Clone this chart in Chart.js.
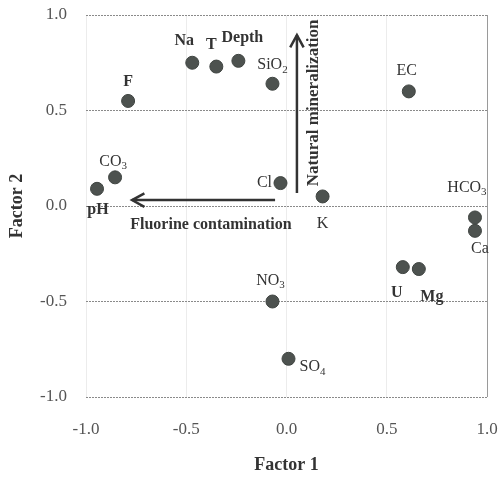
<!DOCTYPE html>
<html>
<head>
<meta charset="utf-8">
<script src="https://cdn.jsdelivr.net/npm/chart.js@4/dist/chart.umd.min.js"></script>
<style>
  html, body { margin: 0; padding: 0; background: #fff; }
  #wrap { width: 498px; height: 478px; }
</style>
</head>
<body>
<div id="wrap"><canvas id="canvas1" width="498" height="478"></canvas></div>
<script>
// variables (loadings)
var variables = ['F', 'Na', 'T', 'Depth', 'SiO2', 'EC', 'CO3', 'pH', 'Cl', 'K', 'HCO3', 'Ca', 'U', 'Mg', 'NO3', 'SO4'];
var factor1 = [-0.79, -0.47, -0.35, -0.24, -0.07, 0.61, -0.855, -0.945, -0.03, 0.18, 0.94, 0.94, 0.58, 0.66, -0.07, 0.01];
var factor2 = [0.55, 0.75, 0.73, 0.76, 0.64, 0.60, 0.15, 0.09, 0.12, 0.05, -0.06, -0.13, -0.32, -0.33, -0.50, -0.80];
var axisTicks = [-1.0, -0.5, 0.0, 0.5, 1.0];

// label look: [text, subscript, dx, dy, bold]
var labelStyle = {
	'F': ['F', '', 0, -19, true],
	'Na': ['Na', '', -8, -22, true],
	'T': ['T', '', -5, -22, true],
	'Depth': ['Depth', '', 4, -23, true],
	'SiO2': ['SiO', '2', 0, -19, false],
	'EC': ['EC', '', -2, -21, false],
	'CO3': ['CO', '3', -2, -16, false],
	'pH': ['pH', '', 1, 21, true],
	'Cl': ['Cl', '', -16, 0, false],
	'K': ['K', '', 0, 27, false],
	'HCO3': ['HCO', '3', -8, -30, false],
	'Ca': ['Ca', '', 5, 18, false],
	'U': ['U', '', -6, 26, true],
	'Mg': ['Mg', '', 13, 28, true],
	'NO3': ['NO', '3', -2, -21, false],
	'SO4': ['SO', '4', 24, 8, false]
};

var points = [];
for (var i = 0; i < variables.length; i++) {
	points.push({x: factor1[i], y: factor2[i]});
}

var serif = '"Liberation Serif", "Times New Roman", serif';

function drawArrow(ctx, x1, y1, x2, y2) {
	var ang = Math.atan2(y2 - y1, x2 - x1);
	ctx.beginPath();
	ctx.moveTo(x1, y1);
	ctx.lineTo(x2, y2);
	ctx.stroke();
	ctx.beginPath();
	ctx.moveTo(x2 - 14 * Math.cos(ang - 0.5), y2 - 14 * Math.sin(ang - 0.5));
	ctx.lineTo(x2, y2);
	ctx.lineTo(x2 - 14 * Math.cos(ang + 0.5), y2 - 14 * Math.sin(ang + 0.5));
	ctx.stroke();
}

var annotations = {
	id: 'annotations',
	afterDatasetsDraw: function (chart) {
		var ctx = chart.ctx;
		var xs = chart.scales.x, ys = chart.scales.y;
		var meta = chart.getDatasetMeta(0);
		ctx.save();
		ctx.fillStyle = '#333';
		ctx.textBaseline = 'middle';
		// point labels
		meta.data.forEach(function (pt, i) {
			var st = labelStyle[variables[i]];
			var main = (st[4] ? 'bold ' : '') + '16px ' + serif;
			var sub = (st[4] ? 'bold ' : '') + '11px ' + serif;
			ctx.font = main;
			var w1 = ctx.measureText(st[0]).width;
			ctx.font = sub;
			var w2 = st[1] ? ctx.measureText(st[1]).width : 0;
			var cx = pt.x + st[2], cy = pt.y + st[3];
			var left = cx - (w1 + w2) / 2;
			ctx.textAlign = 'left';
			ctx.font = main;
			ctx.fillText(st[0], left, cy);
			if (st[1]) {
				ctx.font = sub;
				ctx.fillText(st[1], left + w1, cy + 5);
			}
		});
		// arrows
		ctx.strokeStyle = '#333';
		ctx.lineWidth = 2.5;
		drawArrow(ctx, xs.getPixelForValue(-0.057), ys.getPixelForValue(0.031), xs.getPixelForValue(-0.77), ys.getPixelForValue(0.031));
		drawArrow(ctx, xs.getPixelForValue(0.052), ys.getPixelForValue(0.068), xs.getPixelForValue(0.052), ys.getPixelForValue(0.895));
		// arrow texts
		ctx.textAlign = 'center';
		ctx.font = 'bold 16px ' + serif;
		ctx.fillText('Fluorine contamination', xs.getPixelForValue(-0.377), ys.getPixelForValue(-0.1));
		ctx.translate(xs.getPixelForValue(0.137), ys.getPixelForValue(0.54));
		ctx.rotate(-Math.PI / 2);
		ctx.font = 'bold 17px ' + serif;
		ctx.fillText('Natural mineralization', 0, 0);
		ctx.restore();
	}
};

new Chart(document.getElementById('canvas1'), {
	type: 'scatter',
	data: {
		datasets: [{
			data: points,
			pointRadius: 6.5,
			pointHoverRadius: 6.5,
			backgroundColor: '#4d524f',
			borderColor: '#3f4441',
			borderWidth: 1
		}]
	},
	options: {
		responsive: false,
		animation: false,
		layout: {padding: {top: 15, right: 11, left: 0, bottom: 0}},
		plugins: {legend: {display: false}, tooltip: {enabled: false}},
		scales: {
			x: {
				type: 'linear',
				min: -1, max: 1,
				afterFit: function (scale) {
					scale.height = 81;
					scale.paddingLeft = 0;
					scale.paddingRight = 0;
				},
				afterBuildTicks: function (scale) {
					scale.ticks = axisTicks.map(function (v) { return {value: v}; });
				},
				border: {display: false},
				grid: {
					drawTicks: false,
					color: function (c) { return c.tick && c.tick.value === 1 ? '#9a9a9a' : '#ececec'; },
					lineWidth: 1
				},
				ticks: {
					padding: 22,
					color: '#555',
					font: {family: serif, size: 17},
					callback: function (v) { return v.toFixed(1); }
				},
				title: {
					display: true,
					text: 'Factor 1',
					color: '#333',
					font: {family: serif, size: 18, weight: 'bold'},
					padding: {top: 0, bottom: 2}
				}
			},
			y: {
				type: 'linear',
				min: -1, max: 1,
				afterFit: function (scale) {
					scale.width = 86;
					scale.paddingTop = 0;
					scale.paddingBottom = 0;
				},
				afterBuildTicks: function (scale) {
					scale.ticks = axisTicks.map(function (v) { return {value: v}; });
				},
				border: {display: false, dash: [2, 1]},
				grid: {
					drawTicks: false,
					color: '#8a8a8a',
					lineWidth: 1
				},
				ticks: {
					padding: 19,
					color: '#555',
					font: {family: serif, size: 17},
					callback: function (v) { return v.toFixed(1); }
				},
				title: {
					display: true,
					text: 'Factor 2',
					color: '#333',
					font: {family: serif, size: 18, weight: 'bold'},
					padding: {top: 7, bottom: 0}
				}
			}
		}
	},
	plugins: [annotations]
});
</script>
</body>
</html>
